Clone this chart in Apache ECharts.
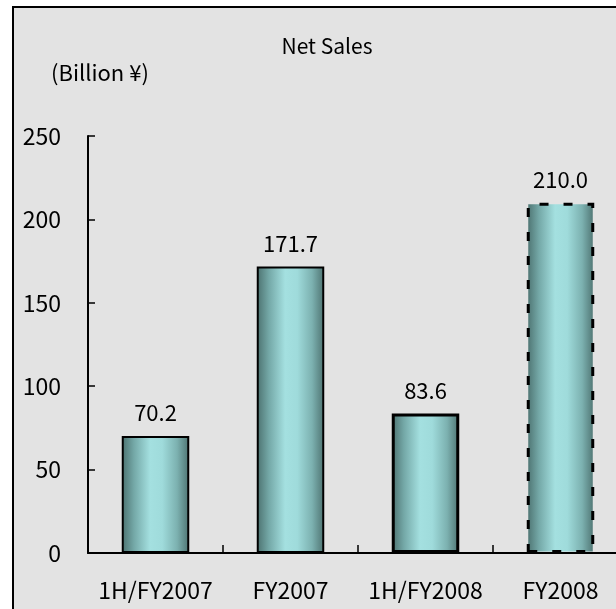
<!DOCTYPE html>
<html>
<head>
<meta charset="utf-8">
<script src="https://cdn.jsdelivr.net/npm/echarts@6/dist/echarts.min.js"></script>
<style>html,body{margin:0;padding:0;background:#fff;}#c{width:616px;height:609px;}</style>
</head>
<body>
<div id="c"></div>
<script>
const categories = ['1H/FY2007', 'FY2007', '1H/FY2008', 'FY2008'];
const netSales = [70.2, 171.7, 83.6, 210.0];
const yTicks = [0, 50, 100, 150, 200, 250];

const FONT = '"Noto Sans CJK JP", "Noto Sans", sans-serif';
const barFill = {
  type: 'linear', x: 0, y: 0, x2: 1, y2: 0,
  colorStops: [
    { offset: 0, color: '#4b706e' },
    { offset: 0.18, color: '#74a8a7' },
    { offset: 0.42, color: '#a4e0e0' },
    { offset: 0.6, color: '#9fdbdb' },
    { offset: 0.82, color: '#7cb1b0' },
    { offset: 1, color: '#4d7270' }
  ]
};
const borderStyles = [
  { borderColor: '#000', borderWidth: 2 },
  { borderColor: '#000', borderWidth: 2 },
  { borderColor: '#000', borderWidth: 3 },
  { borderColor: '#000', borderWidth: 3, borderType: [9, 15] }
];

const chart = echarts.init(document.getElementById('c'), null, { renderer: 'canvas' });
chart.setOption({
  backgroundColor: '#e3e3e3',
  animation: false,
  textStyle: { fontFamily: FONT },
  title: {
    text: 'Net Sales',
    left: 322, top: 31, textAlign: 'center',
    textStyle: { fontFamily: FONT, fontSize: 21, fontWeight: 'normal', color: '#000' }
  },
  graphic: [
    { type: 'rect', shape: { x: 0, y: 0, width: 12, height: 609 }, style: { fill: '#fff' }, silent: true },
    { type: 'rect', shape: { x: 0, y: 0, width: 616, height: 6 }, style: { fill: '#fff' }, silent: true },
    { type: 'line', shape: { x1: 13, y1: 6, x2: 13, y2: 609 }, style: { stroke: '#000', lineWidth: 2 }, silent: true },
    { type: 'line', shape: { x1: 12, y1: 7, x2: 616, y2: 7 }, style: { stroke: '#000', lineWidth: 2 }, silent: true },
    { type: 'text', left: 51, top: 62, style: { text: '(Billion ¥)', font: '22px ' + FONT, fill: '#000' }, silent: true }
  ],
  grid: { left: 88, top: 136, width: 540, height: 417, containLabel: false, outerBoundsMode: 'none' },
  xAxis: {
    type: 'category',
    data: categories,
    axisLine: { show: true, lineStyle: { color: '#000', width: 2 } },
    axisTick: { show: true, inside: true, length: 8, interval: 0, alignWithLabel: false, lineStyle: { color: '#000', width: 1.5 } },
    axisLabel: { color: '#000', fontSize: 23, margin: 26, interval: 0, fontFamily: FONT },
    splitLine: { show: false }
  },
  yAxis: {
    type: 'value',
    min: yTicks[0], max: yTicks[yTicks.length - 1], interval: 50,
    axisLine: { show: true, lineStyle: { color: '#000', width: 2 } },
    axisTick: { show: true, inside: true, length: 7, lineStyle: { color: '#000', width: 1.5 } },
    axisLabel: { color: '#000', fontSize: 23, margin: 27, fontFamily: FONT },
    splitLine: { show: false }
  },
  series: [{
    type: 'bar',
    barWidth: '50%',
    data: netSales.map((v, i) => ({ value: v, itemStyle: Object.assign({ color: barFill }, borderStyles[i]) })),
    label: {
      show: true, position: 'top', distance: 12,
      formatter: p => p.value.toFixed(1),
      color: '#000', fontSize: 22, fontFamily: FONT
    }
  }]
});
</script>
</body>
</html>
